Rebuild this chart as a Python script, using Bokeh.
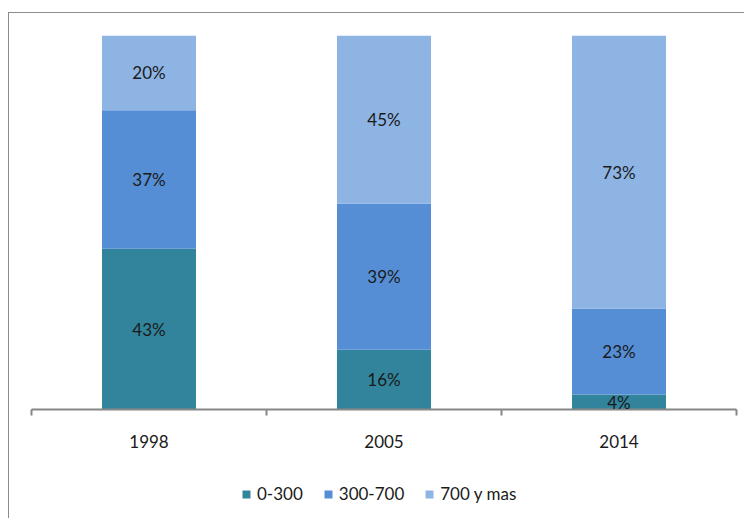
from bokeh.plotting import figure
from bokeh.layouts import column
from bokeh.models import (ColumnDataSource, Range1d, FixedTicker, LabelSet, Legend, LegendItem)
from bokeh.core.properties import value
from bokeh.embed import file_html
from bokeh.resources import INLINE

years = ["1998", "2005", "2014"]
series = ["0-300", "300-700", "700 y mas"]
v_0_300 = [43, 16, 4]
v_300_700 = [37, 39, 23]
v_700_mas = [20, 45, 73]
colors = ["#31849B", "#558ED5", "#8EB4E3"]

xs = [i + 0.5 for i in range(len(years))]
source = ColumnDataSource(dict(x=xs, s0=v_0_300, s1=v_300_700, s2=v_700_mas))

p = figure(width=736, height=458, output_backend="svg", toolbar_location=None,
           x_range=Range1d(0, 3), y_range=Range1d(0, 100),
           min_border_left=22, min_border_right=9, min_border_top=22, min_border_bottom=62)
p.outline_line_color = None
p.xgrid.visible = False
p.ygrid.visible = False
p.yaxis.visible = False

renderers = p.vbar_stack(["s0", "s1", "s2"], x="x", width=0.4, source=source,
                         color=colors, line_color=None)

# labels
lab_x, lab_y, lab_t = [], [], []
for i in range(len(years)):
    vals = [v_0_300[i], v_300_700[i], v_700_mas[i]]
    base = 0
    for v in vals:
        lab_x.append(xs[i]); lab_y.append(base + v / 2); lab_t.append(f"{v}%")
        base += v
lsrc = ColumnDataSource(dict(x=lab_x, y=lab_y, t=lab_t))
p.add_layout(LabelSet(x="x", y="y", text="t", source=lsrc, text_align="center",
                      text_baseline="middle", text_font=value("Lato"),
                      text_font_size=value("17px"), text_color="#1a1a1a"))

ax = p.xaxis[0]
ax.ticker = FixedTicker(ticks=xs, minor_ticks=[0, 1, 2, 3])
ax.major_label_overrides = {x: y for x, y in zip(xs, years)}
ax.major_tick_in = 0
ax.major_tick_out = 0
ax.minor_tick_in = 0
ax.minor_tick_out = 6
ax.minor_tick_line_color = "#868686"
ax.axis_line_color = "#868686"
ax.axis_line_width = 2
ax.minor_tick_line_width = 2
ax.major_label_standoff = 19
ax.major_label_text_font = "Lato"
ax.major_label_text_font_size = "17px"
ax.major_label_text_color = "#1a1a1a"

# legend panel (zero-width bars outside the visible range; they only feed the legend)
p2 = figure(width=736, height=48, output_backend="svg", toolbar_location=None,
            x_range=Range1d(0, 3), y_range=Range1d(-2, -1),
            x_axis_type=None, y_axis_type=None,
            min_border_left=0, min_border_right=0, min_border_top=0, min_border_bottom=0)
p2.outline_line_color = None
p2.grid.visible = False
leg_r = [p2.vbar(x="x", top=s, bottom=0, width=0, source=source, color=c, line_color=None)
         for s, c in zip(["s0", "s1", "s2"], colors)]

legend = Legend(items=[LegendItem(label=s, renderers=[r]) for s, r in zip(series, leg_r)],
                orientation="horizontal", location=(210, 15),
                glyph_width=10, glyph_height=10, label_text_font="Lato",
                label_text_font_size="17px", label_text_color="#1a1a1a",
                spacing=20, label_standoff=6, border_line_color=None,
                background_fill_alpha=0, padding=0, margin=0)
p2.add_layout(legend)

layout = column(p, p2, spacing=0, margin=(12, 0, 0, 8),
                styles={"border-left": "1px solid #8c8c8c", "border-top": "1px solid #8c8c8c"})

open("out.html", "w").write(file_html(layout, INLINE))
